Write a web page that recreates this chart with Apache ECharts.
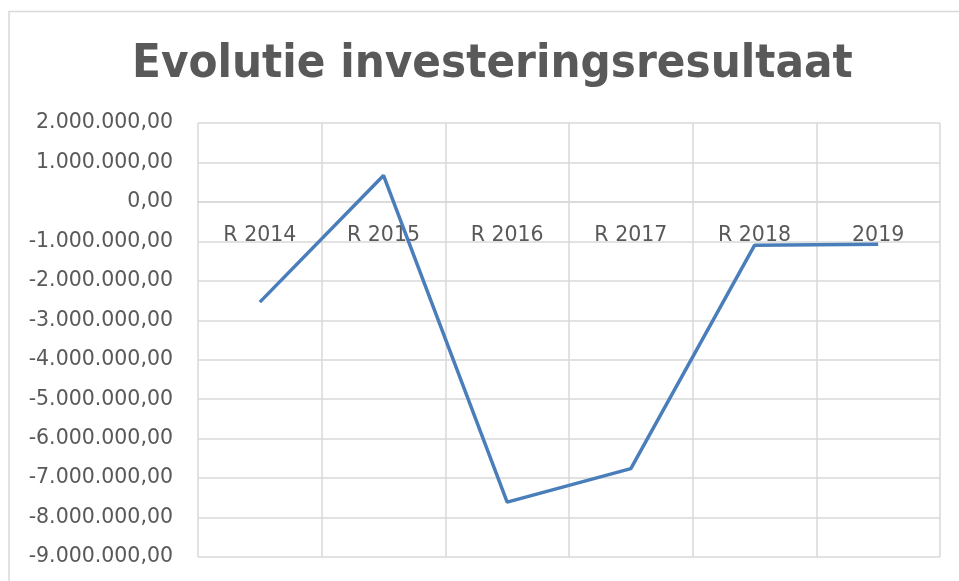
<!DOCTYPE html>
<html>
<head>
<meta charset="utf-8">
<script src="https://cdn.jsdelivr.net/npm/echarts@6/dist/echarts.min.js"></script>
<style>
  html, body { margin: 0; padding: 0; background: #fff; }
  #main { width: 959px; height: 581px; }
</style>
</head>
<body>
<div id="main"></div>
<script>
var categories = ["R 2014", "R 2015", "R 2016", "R 2017", "R 2018", "2019"];
var resultaat = [-2540000, 670000, -7610000, -6760000, -1100000, -1070000];
var yMin = -9000000;
var yMax = 2000000;
var yStep = 1000000;

// Dutch number format: 1.000.000,00
function nlFormat(v) {
    var neg = v < 0;
    var s = Math.abs(Math.round(v)).toString();
    s = s.replace(/\B(?=(\d{3})+(?!\d))/g, ".");
    return (neg ? "-" : "") + s + ",00";
}

var gridTop = 123;
var gridBottom = 24;
var plotHeight = 581 - gridTop - gridBottom;
// move the category axis up to the zero line (onZero did not take effect)
var zeroOffset = -plotHeight * (0 - yMin) / (yMax - yMin);

var chartDom = document.getElementById("main");
var myChart = echarts.init(chartDom);
var titleFont = "'DejaVu Sans Condensed', 'DejaVu Sans', sans-serif";
var labelFont = "'DejaVu Sans', sans-serif";
var option = {
    animation: false,
    backgroundColor: "#ffffff",
    graphic: [
        {
            type: "rect",
            shape: { x: 9, y: 11.5, width: 1000, height: 700 },
            style: { fill: "none", stroke: "#d9d9d9", lineWidth: 1.5 },
            silent: true,
        },
    ],
    title: {
        text: "Evolutie investeringsresultaat",
        left: 127,
        top: 36,
        textStyle: {
            fontFamily: titleFont,
            fontWeight: "bold",
            fontSize: 47,
            color: "#595959",
        },
    },
    grid: {
        left: 198,
        right: 19,
        top: gridTop,
        bottom: gridBottom,
        containLabel: false,
        outerBoundsMode: "none",
    },
    xAxis: {
        type: "category",
        data: categories,
        boundaryGap: true,
        offset: zeroOffset,
        axisLine: {
            onZero: false,
            lineStyle: { color: "#d9d9d9", width: 1.5 },
        },
        axisTick: { show: false },
        axisLabel: {
            margin: 23,
            fontFamily: labelFont,
            fontSize: 20.5,
            color: "#595959",
        },
        splitLine: {
            show: true,
            lineStyle: { color: "#d9d9d9", width: 1.5 },
        },
    },
    yAxis: {
        type: "value",
        min: yMin,
        max: yMax,
        interval: yStep,
        axisLine: { show: false },
        axisTick: { show: false },
        axisLabel: {
            margin: 25,
            fontFamily: labelFont,
            fontSize: 20.5,
            color: "#595959",
            formatter: nlFormat,
        },
        splitLine: {
            lineStyle: { color: "#d9d9d9", width: 1.5 },
        },
    },
    series: [
        {
            type: "line",
            data: resultaat,
            showSymbol: false,
            symbol: "none",
            lineStyle: { color: "#4a7ebb", width: 3.5 },
            z: 5,
        },
    ],
};

option && myChart.setOption(option);
</script>
</body>
</html>
